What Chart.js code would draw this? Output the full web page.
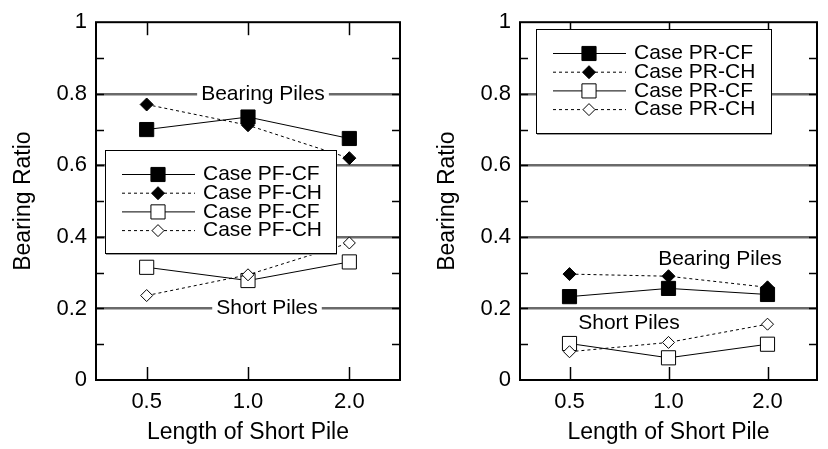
<!DOCTYPE html>
<html>
<head>
<meta charset="utf-8">
<script src="https://cdn.jsdelivr.net/npm/chart.js@4/dist/chart.umd.min.js"></script>
<style>
  body { margin: 0; background: #fff; }
  .wrap { display: flex; width: 828px; height: 449px; }
  .panel { width: 414px; height: 449px; }
</style>
</head>
<body>
<div class="wrap">
  <div class="panel"><canvas id="pfChart" width="414" height="449"></canvas></div>
  <div class="panel"><canvas id="prChart" width="414" height="449"></canvas></div>
</div>
<script>
// categories + tick labels
const lengthLabels = ['0.5', '1.0', '2.0'];
const ratioTickLabels = ['0', '0.2', '0.4', '0.6', '0.8', '1'];

// left panel (PF cases)
const pfNames = ['Case PF-CF', 'Case PF-CH', 'Case PF-CF', 'Case PF-CH'];
const pfBearingCF = [0.70, 0.735, 0.675];
const pfBearingCH = [0.77, 0.712, 0.62];
const pfShortCF = [0.315, 0.278, 0.33];
const pfShortCH = [0.236, 0.294, 0.383];

// right panel (PR cases)
const prNames = ['Case PR-CF', 'Case PR-CH', 'Case PR-CF', 'Case PR-CH'];
const prBearingCF = [0.233, 0.256, 0.239];
const prBearingCH = [0.296, 0.29, 0.259];
const prShortCF = [0.102, 0.062, 0.10];
const prShortCH = [0.079, 0.105, 0.156];

const FONT = '"Liberation Sans", Arial, Helvetica, sans-serif';
Chart.defaults.font.family = FONT;
Chart.defaults.color = '#000';

// marker look per series slot: filled square, filled diamond, open square, open diamond
const LOOKS = [
  { shape: 'rect', r: 10, fill: '#000', dash: [], order: 0 },
  { shape: 'rectRot', r: 6.5, fill: '#000', dash: [3, 3], order: 1 },
  { shape: 'rect', r: 10, fill: '#fff', dash: [], order: 3 },
  { shape: 'rectRot', r: 6, fill: '#fff', dash: [3, 3], order: 2 }
];

function marker(ctx, look, x, y) {
  ctx.beginPath();
  if (look.shape === 'rect') {
    const s = look.r * Math.SQRT1_2;
    ctx.rect(x - s, y - s, 2 * s, 2 * s);
  } else {
    ctx.moveTo(x, y - look.r);
    ctx.lineTo(x + look.r, y);
    ctx.lineTo(x, y + look.r);
    ctx.lineTo(x - look.r, y);
    ctx.closePath();
  }
  ctx.fillStyle = look.fill;
  ctx.fill();
  ctx.lineWidth = 1;
  ctx.strokeStyle = '#000';
  ctx.stroke();
}

function seg(ctx, x1, y1, x2, y2) {
  ctx.beginPath();
  ctx.moveTo(x1, y1);
  ctx.lineTo(x2, y2);
  ctx.stroke();
}

const framePlugin = {
  id: 'frame',
  beforeDatasetsDraw(chart, args, opts) {
    const { ctx, chartArea: a } = chart;
    const x = chart.scales.x, y = chart.scales.y;
    ctx.save();
    ctx.strokeStyle = '#000';
    ctx.setLineDash([]);

    // inward minor ticks on both sides
    ctx.lineWidth = 1.5;
    for (let i = 1; i < 10; i++) {
      const py = Math.round(y.getPixelForValue(i / 10)) + 0.5;
      seg(ctx, a.left, py, a.left + 8, py);
      seg(ctx, a.right - 8, py, a.right, py);
    }
    // category ticks bottom + top
    lengthLabels.forEach((_, i) => {
      const px = Math.round(x.getPixelForValue(i)) + 0.5;
      seg(ctx, px, a.bottom, px, a.bottom - 13);
      seg(ctx, px, a.top, px, a.top + 13);
    });

    ctx.lineWidth = 2;
    ctx.strokeRect(a.left, a.top, a.right - a.left, a.bottom - a.top);

    // region notes
    ctx.font = '21px ' + FONT;
    ctx.textAlign = 'center';
    ctx.textBaseline = 'middle';
    (opts.notes || []).forEach(n => {
      const py = y.getPixelForValue(n.value);
      if (n.knockout) {
        const w = ctx.measureText(n.text).width;
        ctx.fillStyle = '#fff';
        ctx.fillRect(n.x - w / 2 - 4, py - 5, w + 8, 10);
      }
      ctx.fillStyle = '#000';
      ctx.fillText(n.text, n.x, py);
    });
    ctx.restore();
  },
  afterDatasetsDraw(chart, args, opts) {
    const box = opts.legend;
    if (!box) return;
    const ctx = chart.ctx;
    ctx.save();
    ctx.fillStyle = '#fff';
    ctx.fillRect(box.left, box.top, box.width, box.height);
    ctx.lineWidth = 1;
    ctx.strokeStyle = '#000';
    ctx.strokeRect(box.left + 0.5, box.top + 0.5, box.width, box.height);
    // faint shadow edge like the original
    ctx.strokeStyle = '#999';
    seg(ctx, box.left + 1, box.top + box.height + 1.5, box.left + box.width + 1, box.top + box.height + 1.5);

    ctx.font = '21px ' + FONT;
    ctx.textAlign = 'left';
    ctx.textBaseline = 'middle';
    chart.data.datasets.forEach((ds, i) => {
      const look = LOOKS[i];
      const ry = box.top + 24.5 + i * 18.7;
      ctx.strokeStyle = '#000';
      ctx.lineWidth = 1;
      ctx.setLineDash(look.dash);
      seg(ctx, box.left + 17, ry, box.left + 90, ry);
      ctx.setLineDash([]);
      marker(ctx, look, box.left + 53, ry);
      ctx.fillStyle = '#000';
      ctx.fillText(ds.label, box.left + 98, ry);
    });
    ctx.restore();
  }
};

function buildChart(id, names, series, panel) {
  const datasets = series.map((values, i) => {
    const look = LOOKS[i];
    return {
      label: names[i],
      data: values,
      borderColor: '#000',
      borderWidth: 1,
      borderDash: look.dash,
      pointStyle: look.shape,
      pointRadius: look.r,
      pointHoverRadius: look.r,
      pointBackgroundColor: look.fill,
      pointBorderColor: '#000',
      pointBorderWidth: 1,
      order: look.order,
      tension: 0,
      fill: false
    };
  });

  return new Chart(document.getElementById(id), {
    type: 'line',
    data: { labels: lengthLabels, datasets: datasets },
    plugins: [framePlugin],
    options: {
      responsive: false,
      animation: false,
      events: [],
      layout: { padding: { top: 20, right: panel.padRight, left: 0, bottom: 0 } },
      scales: {
        x: {
          type: 'category',
          offset: true,
          grid: { display: false, drawTicks: false },
          border: { display: false },
          ticks: { font: { size: 22 }, padding: 9, maxRotation: 0 },
          title: { display: true, text: 'Length of Short Pile', font: { size: 23 }, padding: { top: 0, bottom: 3 } },
          afterFit(scale) { scale.height = 69; }
        },
        y: {
          min: 0,
          max: 1,
          grid: {
            drawTicks: false,
            lineWidth: 2.5,
            color(c) {
              const v = c.tick.value;
              const major = Math.abs(v * 5 - Math.round(v * 5)) < 1e-6;
              return (major && v > 0.01 && v < 0.99) ? '#6a6a6a' : 'rgba(0,0,0,0)';
            }
          },
          border: { display: false },
          ticks: {
            stepSize: 0.1,
            autoSkip: false,
            padding: 9,
            font: { size: 22 },
            callback(v) {
              const k = v * 5;
              return Math.abs(k - Math.round(k)) < 1e-6 ? ratioTickLabels[Math.round(k)] : '';
            }
          },
          title: { display: true, text: 'Bearing Ratio', font: { size: 23 }, padding: { top: panel.titlePad, bottom: 0 } },
          afterFit(scale) { scale.width = panel.yWidth; }
        }
      },
      plugins: {
        legend: { display: false },
        tooltip: { enabled: false },
        frame: { legend: panel.legend, notes: panel.notes }
      }
    }
  });
}

buildChart('pfChart', pfNames, [pfBearingCF, pfBearingCH, pfShortCF, pfShortCH], {
  yWidth: 96, padRight: 14, titlePad: 10,
  legend: { left: 105, top: 150, width: 231, height: 103 },
  notes: [
    { text: 'Bearing Piles', x: 263, value: 0.8, knockout: true },
    { text: 'Short Piles', x: 267, value: 0.2, knockout: true }
  ]
});

buildChart('prChart', prNames, [prBearingCF, prBearingCH, prShortCF, prShortCH], {
  yWidth: 106, padRight: 4, titlePad: 20,
  legend: { left: 122, top: 29, width: 235, height: 104 },
  notes: [
    { text: 'Bearing Piles', x: 306, value: 0.339, knockout: false },
    { text: 'Short Piles', x: 215, value: 0.158, knockout: false }
  ]
});
</script>
</body>
</html>
